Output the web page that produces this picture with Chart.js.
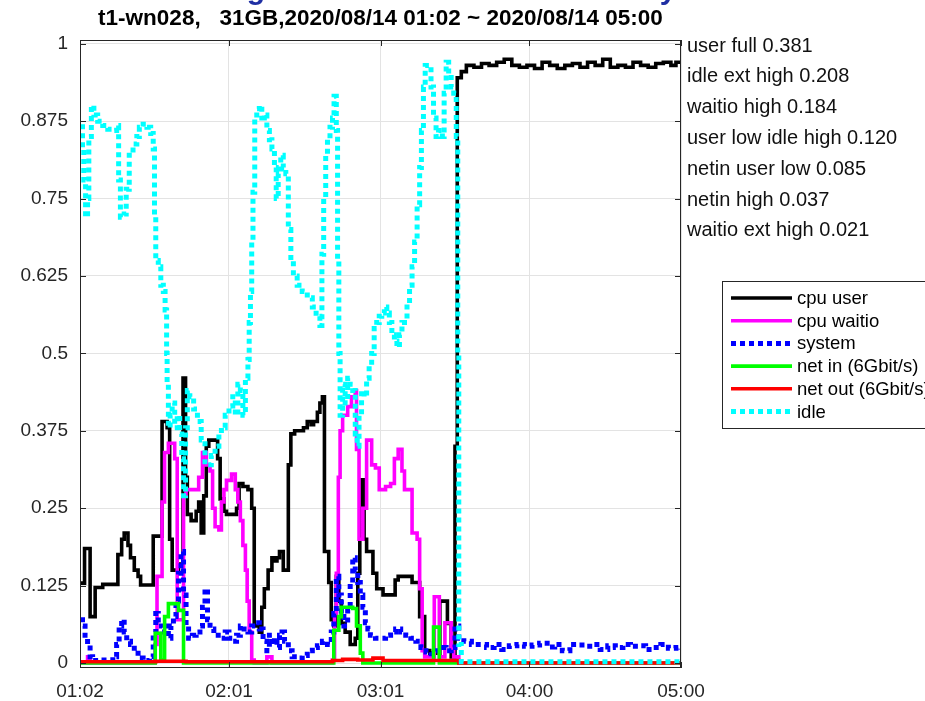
<!DOCTYPE html>
<html>
<head>
<meta charset="utf-8">
<title>t1-wn028 cpu</title>
<script src="https://cdn.jsdelivr.net/npm/chart.js@4.4.1/dist/chart.umd.min.js"></script>
<style>
  html, body { margin: 0; padding: 0; background: #fff; }
  #wrap { width: 925px; height: 701px; position: relative; }
</style>
</head>
<body>
<div id="wrap"><canvas id="cpuChart"></canvas></div>
<script>
// minutes since 01:02
const xTickMinutes = [0, 59, 119, 178, 238];
const xTickLabels = ["01:02", "02:01", "03:01", "04:00", "05:00"];
const yTickValues = [0, 0.125, 0.25, 0.375, 0.5, 0.625, 0.75, 0.875, 1];

const titleText = "t1-wn028,   31GB,2020/08/14 01:02 ~ 2020/08/14 05:00";
const scoreLines = [
  "user full 0.381",
  "idle ext high 0.208",
  "waitio high 0.184",
  "user low idle high 0.120",
  "netin user low 0.085",
  "netin high 0.037",
  "waitio ext high 0.021"
];

// cpu user (step start time, level)
const userT = [0, 1.8, 4, 6, 9, 15, 16.5, 17.5, 19, 20, 21.5, 23, 24, 29, 32.5, 34.5, 35.5, 36.5, 39, 40.8,
  41.8, 42.5, 44, 46, 47, 48, 49, 50, 51, 54.5, 55.5, 57, 58, 62, 63, 64.5, 66.5, 68, 69, 71,
  72, 73, 74.5, 76, 77, 78, 79, 80.5, 82.5, 83.5, 85, 88.5, 90, 91.5, 92.5, 94, 95, 96, 96.8, 98.5,
  99.5, 100.5, 101.5, 102.5, 103.5, 105, 107, 109, 110, 110.8, 111.5, 112.5, 113.5, 116, 117.5, 120, 124.8, 126, 131.5, 134.5,
  136.5, 138.5, 142.5, 145.5, 147, 148.5, 149.4, 151, 153, 156, 159, 162, 165, 168, 171, 174, 177, 180,
  183, 186, 189, 192, 195, 198, 201, 204, 207, 210, 213, 216, 219, 222, 225, 228, 231, 234, 236, 238];
const userV = [0.129, 0.185, 0.075, 0.122, 0.127, 0.175, 0.2, 0.21, 0.19, 0.17, 0.15, 0.14, 0.126, 0.205, 0.39, 0.38, 0.2, 0.15, 0.16, 0.46,
  0.3, 0.24, 0.23, 0.245, 0.26, 0.21, 0.27, 0.35, 0.36, 0.33, 0.265, 0.245, 0.24, 0.25, 0.29, 0.285, 0.28, 0.25, 0.06, 0.05,
  0.09, 0.12, 0.15, 0.17, 0.165, 0.17, 0.18, 0.15, 0.32, 0.37, 0.375, 0.38, 0.39, 0.385, 0.39, 0.405, 0.42, 0.43, 0.18, 0.13,
  0.07, 0.06, 0.14, 0.1, 0.064, 0.05, 0.03, 0.04, 0.145, 0.2, 0.296, 0.2, 0.18, 0.145, 0.12, 0.11, 0.134, 0.14, 0.13, 0.075,
  0.02, 0.016, 0.1, 0.064, 0.01, 0.35, 0.945, 0.955, 0.965, 0.962, 0.968, 0.965, 0.97, 0.975, 0.965, 0.962, 0.965, 0.96,
  0.97, 0.965, 0.96, 0.965, 0.968, 0.962, 0.97, 0.965, 0.975, 0.962, 0.965, 0.962, 0.97, 0.965, 0.962, 0.968, 0.97, 0.965, 0.97, 0.968];

// cpu waitio
const waitT = [0, 3, 4, 29.7, 30.5, 32.5, 33.5, 35, 37.5, 38.5, 41, 42, 45, 47, 48.5, 50, 51.5, 52.5, 53.5, 55,
  56, 57, 58, 60, 61.5, 62.5, 63.5, 64.5, 65.5, 66.2, 67, 68, 69, 74, 76, 100, 100.8, 101.5, 102.3, 103,
  104, 106, 107.5, 109, 109.5, 110.5, 112, 113.5, 115.5, 117, 118.5, 121, 123, 124.5, 126, 127.5, 128.5, 131.5, 133.5, 134.5,
  135.5, 136.5, 140.3, 142.3, 144.5, 147, 148, 150, 238];
const waitV = [0, 0.01, 0, 0.03, 0.14, 0.26, 0.34, 0.355, 0.33, 0.07, 0.27, 0.28, 0.28, 0.3, 0.34, 0.32, 0.31, 0.25, 0.22, 0.215,
  0.26, 0.28, 0.295, 0.305, 0.28, 0.26, 0.23, 0.19, 0.15, 0.1, 0.05, 0.005, 0, 0.01, 0, 0.005, 0.08, 0.145, 0.3, 0.375,
  0.4, 0.414, 0.43, 0.44, 0.345, 0.2, 0.25, 0.36, 0.32, 0.315, 0.28, 0.285, 0.29, 0.33, 0.345, 0.31, 0.28, 0.21, 0.2, 0.12,
  0.02, 0.01, 0.107, 0.01, 0.065, 0.02, 0.01, 0, 0];

// system
const sysT = [0, 1, 2, 3, 4, 5, 8, 11, 13, 14.5, 15.5, 16.5, 17.5, 18.5, 20, 21.5, 23, 25, 27.5, 29,
  30, 31, 32.5, 34, 35, 36, 37, 38, 39, 40, 41, 42, 43, 44.5, 46, 47.5, 48.5, 49.5, 50.5, 51.5,
  53, 54.5, 56, 57.5, 59, 60.5, 62, 63.5, 65, 66.5, 68, 69.5, 71, 72.5, 74, 75, 76, 77, 78, 79,
  80, 81, 82.5, 84, 86, 88, 90, 92, 94, 96, 98, 99.5, 100.5, 101.5, 102.5, 103.5, 104.5, 106, 107, 108,
  109, 110, 111, 112, 113, 114, 115, 117, 119, 121, 123, 125, 127, 129, 131, 133, 135, 137, 139, 141,
  143, 145, 147, 148.5, 150, 152, 155, 158, 161, 164, 167, 170, 173, 176, 179, 182, 185, 188, 191, 194,
  197, 200, 203, 206, 209, 212, 215, 218, 221, 224, 227, 230, 233, 236, 238];
const sysV = [0.07, 0.06, 0.045, 0.03, 0.01, 0.004, 0.005, 0.005, 0.01, 0.03, 0.06, 0.07, 0.05, 0.035, 0.03, 0.02, 0.008, 0.004, 0.01, 0.05,
  0.08, 0.06, 0.05, 0.06, 0.04, 0.06, 0.075, 0.1, 0.145, 0.18, 0.11, 0.06, 0.04, 0.045, 0.05, 0.06, 0.09, 0.12, 0.07, 0.055,
  0.045, 0.045, 0.04, 0.05, 0.04, 0.035, 0.045, 0.06, 0.055, 0.05, 0.06, 0.065, 0.055, 0.035, 0.02, 0.045, 0.03, 0.04, 0.025, 0.045,
  0.05, 0.035, 0.02, 0.01, 0.008, 0.012, 0.02, 0.025, 0.028, 0.035, 0.03, 0.05, 0.08, 0.14, 0.11, 0.075, 0.06, 0.09, 0.13, 0.17,
  0.15, 0.13, 0.11, 0.09, 0.065, 0.055, 0.045, 0.04, 0.04, 0.045, 0.05, 0.055, 0.05, 0.045, 0.04, 0.035, 0.025, 0.018, 0.015, 0.02,
  0.025, 0.02, 0.025, 0.06, 0.04, 0.035, 0.03, 0.03, 0.025, 0.03, 0.022, 0.028, 0.03, 0.027, 0.029, 0.032, 0.026, 0.03, 0.02, 0.03,
  0.029, 0.027, 0.03, 0.022, 0.028, 0.025, 0.03, 0.027, 0.028, 0.022, 0.025, 0.03, 0.024, 0.025, 0.022];

// net in (6Gbit/s)
const netInT = [0, 29.8, 32, 33.5, 35, 39, 41, 100.5, 102.5, 103.5, 108, 109.5, 111, 112, 140, 142.3, 238];
const netInV = [0, 0.048, 0.005, 0.075, 0.096, 0.085, 0, 0.053, 0.075, 0.09, 0.088, 0.06, 0.016, 0, 0.058, 0, 0];

// net out (6Gbit/s)
const netOutT = [0, 30, 42, 100, 104, 110, 116, 120, 150, 238];
const netOutV = [0.002, 0.003, 0.002, 0.004, 0.006, 0.005, 0.008, 0.004, 0, 0];

// idle
const idleT = [0, 1, 1.5, 2.2, 3, 3.5, 4.5, 5.5, 7, 9, 11, 13, 14.5, 15.3, 16, 17.5, 18.3, 19.5, 21, 22.5,
  23.5, 25, 26.5, 28, 29, 29.5, 30, 31, 32, 33, 33.7, 34.3, 34.5, 35, 35.7, 36.5, 37.5, 38.5, 39.5, 40.3,
  41, 41.8, 42.5, 43.5, 45, 46.5, 48, 49.5, 50.5, 52, 53.5, 55, 56, 57.5, 59, 60.5, 61.5, 62.5, 63.5, 64.5,
  65.5, 66.5, 67, 67.5, 68, 68.5, 69.2, 70, 71, 72, 73, 74, 75, 76, 77, 77.7, 78.5, 79.5, 80.5, 81.5,
  82.5, 83.5, 84.5, 86, 88, 90, 92, 93.5, 95, 95.8, 96.5, 97.3, 98, 99, 100, 100.6, 101.5, 102, 102.5, 103,
  104, 105, 106, 107, 108, 109, 109.8, 110.5, 111.5, 112.5, 113.5, 114.5, 115.5, 116.5, 117.5, 118.5, 119.5, 120.5, 121.5, 122.5,
  123.5, 124.5, 125.5, 126.5, 127.5, 128.5, 129.5, 130.5, 131.5, 132.5, 133.5, 134.5, 135.2, 136, 136.7, 138, 139, 140, 141, 142,
  143.5, 144.2, 145, 146, 147, 148, 149, 149.6, 150, 151, 238];
const idleV = [0.866, 0.83, 0.78, 0.72, 0.75, 0.85, 0.9, 0.885, 0.875, 0.868, 0.862, 0.86, 0.868, 0.78, 0.72, 0.725, 0.765, 0.82, 0.838, 0.85,
  0.865, 0.87, 0.865, 0.855, 0.83, 0.72, 0.65, 0.64, 0.61, 0.6, 0.57, 0.5, 0.45, 0.38, 0.4, 0.42, 0.38, 0.4, 0.37, 0.33,
  0.27, 0.38, 0.44, 0.43, 0.41, 0.39, 0.36, 0.325, 0.32, 0.335, 0.35, 0.37, 0.38, 0.4, 0.415, 0.43, 0.4, 0.45, 0.44, 0.4,
  0.46, 0.49, 0.55, 0.6, 0.68, 0.76, 0.88, 0.895, 0.9, 0.88, 0.885, 0.86, 0.845, 0.83, 0.8, 0.75, 0.79, 0.82, 0.8, 0.79,
  0.7, 0.65, 0.625, 0.61, 0.6, 0.59, 0.575, 0.56, 0.545, 0.66, 0.75, 0.82, 0.845, 0.865, 0.88, 0.915, 0.86, 0.65, 0.5, 0.4,
  0.45, 0.42, 0.46, 0.45, 0.44, 0.37, 0.35, 0.4, 0.44, 0.43, 0.46, 0.48, 0.5, 0.54, 0.55, 0.56, 0.565, 0.575, 0.565, 0.55,
  0.53, 0.52, 0.51, 0.53, 0.55, 0.555, 0.58, 0.61, 0.64, 0.68, 0.74, 0.8, 0.86, 0.93, 0.965, 0.965, 0.93, 0.88, 0.85, 0.86,
  0.85, 0.92, 0.97, 0.95, 0.93, 0.92, 0.85, 0.5, 0.03, 0.002, 0.002];

const FONT = "'Liberation Sans', Arial, Helvetica, sans-serif";
const INK = "#262626";

function toPoints(times, values) {
  return times.map((t, i) => ({ x: t, y: values[i] }));
}

function stairs(label, times, values, color, dotted, order) {
  return {
    label,
    data: toPoints(times, values),
    borderColor: color,
    backgroundColor: color,
    borderWidth: dotted ? 5 : 3.6,
    borderDash: dotted ? [5, 4] : [],
    borderCapStyle: "butt",
    borderJoinStyle: "miter",
    stepped: true,
    pointRadius: 0,
    fill: false,
    order
  };
}

const matlabFrame = {
  id: "matlabFrame",
  afterDraw(chart) {
    const { ctx, chartArea: a, scales } = chart;
    ctx.save();

    // axes box and inward ticks
    ctx.strokeStyle = INK;
    ctx.lineWidth = 1;
    ctx.setLineDash([]);
    ctx.strokeRect(a.left + 0.5, a.top + 0.5, a.right - a.left - 1, a.bottom - a.top - 1);
    ctx.beginPath();
    xTickMinutes.forEach((m) => {
      const px = Math.round(scales.x.getPixelForValue(m)) + 0.5;
      ctx.moveTo(px, a.bottom);
      ctx.lineTo(px, a.bottom - 6);
      ctx.moveTo(px, a.top);
      ctx.lineTo(px, a.top + 6);
    });
    yTickValues.forEach((v) => {
      const py = Math.round(scales.y.getPixelForValue(v)) + 0.5;
      ctx.moveTo(a.left, py);
      ctx.lineTo(a.left + 6, py);
      ctx.moveTo(a.right, py);
      ctx.lineTo(a.right - 6, py);
    });
    ctx.stroke();

    // cut-off heading above the figure
    ctx.fillStyle = "#1f2fa3";
    ctx.font = `bold 30px ${FONT}`;
    ctx.textAlign = "center";
    ctx.textBaseline = "alphabetic";
    ctx.fillText("g", 256, -1);
    ctx.fillText("y", 668, -1);

    // title
    ctx.fillStyle = "#000";
    ctx.font = `bold 22.5px ${FONT}`;
    ctx.textBaseline = "middle";
    ctx.fillText(titleText, (a.left + a.right) / 2, 19);

    // score text right of the axes
    ctx.textAlign = "left";
    ctx.font = `20px ${FONT}`;
    ctx.fillStyle = "#111";
    scoreLines.forEach((line, i) => {
      ctx.fillText(line, 687, 46 + i * 30.8);
    });

    // legend box
    ctx.fillStyle = "#fff";
    ctx.fillRect(722, 281, 210, 147);
    ctx.strokeStyle = INK;
    ctx.lineWidth = 1;
    ctx.strokeRect(722.5, 281.5, 220, 147);
    ctx.font = `18.5px ${FONT}`;
    chart.data.datasets.forEach((ds, i) => {
      const y = 298 + i * 22.7;
      ctx.beginPath();
      ctx.strokeStyle = ds.borderColor;
      if (ds.borderDash.length) {
        ctx.lineWidth = 5;
        ctx.setLineDash([5, 4]);
      } else {
        ctx.lineWidth = 3.6;
        ctx.setLineDash([]);
      }
      ctx.moveTo(731, y);
      ctx.lineTo(792, y);
      ctx.stroke();
      ctx.fillStyle = "#000";
      ctx.fillText(ds.label, 797, y + 1);
    });

    ctx.restore();
  }
};

new Chart(document.getElementById("cpuChart"), {
  type: "line",
  data: {
    datasets: [
      stairs("cpu user", userT, userV, "#000000", false, 6),
      stairs("cpu waitio", waitT, waitV, "#ff00ff", false, 5),
      stairs("system", sysT, sysV, "#0000ff", true, 4),
      stairs("net in (6Gbit/s)", netInT, netInV, "#00ff00", false, 3),
      stairs("net out (6Gbit/s)", netOutT, netOutV, "#ff0000", false, 2),
      stairs("idle", idleT, idleV, "#00ffff", true, 1)
    ]
  },
  options: {
    responsive: true,
    maintainAspectRatio: false,
    animation: false,
    layout: {
      padding: { top: 40, right: 244, bottom: 0, left: 0 }
    },
    plugins: {
      legend: { display: false },
      tooltip: { enabled: false },
      title: { display: false }
    },
    scales: {
      x: {
        type: "linear",
        min: 0,
        max: 238,
        afterBuildTicks: (axis) => {
          axis.ticks = xTickMinutes.map((m) => ({ value: m }));
        },
        afterFit: (axis) => {
          axis.height = 33;
        },
        grid: {
          color: "#e3e3e3",
          drawTicks: false
        },
        border: { display: false },
        ticks: {
          autoSkip: false,
          maxRotation: 0,
          padding: 12,
          color: INK,
          font: { family: FONT, size: 19 },
          callback: (value) => xTickLabels[xTickMinutes.indexOf(value)]
        }
      },
      y: {
        min: -0.008,
        max: 1.006,
        afterBuildTicks: (axis) => {
          axis.ticks = yTickValues.map((v) => ({ value: v }));
        },
        afterFit: (axis) => {
          axis.width = 80;
        },
        grid: {
          color: "#e3e3e3",
          drawTicks: false
        },
        border: { display: false },
        ticks: {
          padding: 12,
          color: INK,
          font: { family: FONT, size: 19 },
          callback: (value) => String(value)
        }
      }
    }
  },
  plugins: [matlabFrame]
});
</script>
</body>
</html>
